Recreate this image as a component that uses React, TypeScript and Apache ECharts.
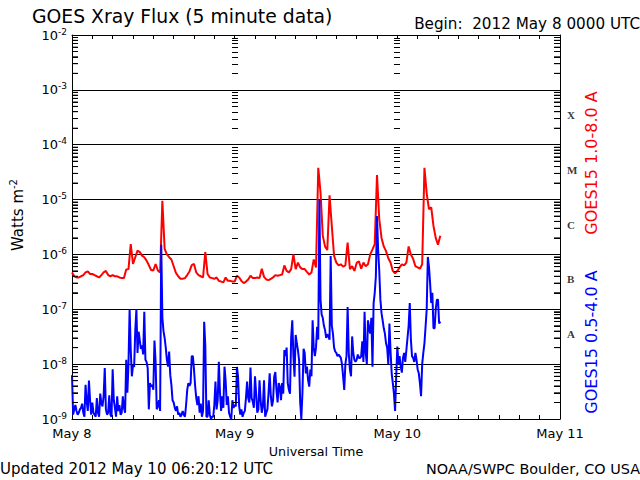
import React, { useEffect, useRef } from "react";
import * as echarts from "echarts";

// ---- data ----
// long channel sampled every 20 minutes, short channel every 10 minutes, from 2012 May 8 00:00 UTC
const LONG_STEP_MINUTES = 20;
const SHORT_STEP_MINUTES = 10;
const DAY_LABELS = ["May 8", "May 9", "May 10", "May 11"];
const CLASS_LETTERS = ["X", "M", "C", "B", "A"];
const CLASS_LEVELS = [3.5e-4, 3.5e-5, 3.5e-6, 3.5e-7, 3.5e-8];
// interior day lines (hours from May 8 00:00) that carry a column of minor log ticks
const DAY_TICK_HOURS = [24, 48];
const EDGE_HOURS = [0, 72];

// GOES15 1.0-8.0 A (W m^-2)
const LONG_CHANNEL = [
  4.7e-7, 4.0e-7, 3.8e-7, 3.8e-7, 4.0e-7, 4.2e-7, 4.7e-7, 4.9e-7, 4.4e-7, 4.4e-7,
  4.2e-7, 4.0e-7, 3.8e-7, 4.2e-7, 4.7e-7, 5.0e-7, 4.2e-7, 4.0e-7, 4.2e-7, 4.0e-7,
  4.0e-7, 3.8e-7, 3.7e-7, 3.7e-7, 5.3e-7, 5.4e-7, 1.55e-6, 6.7e-7, 8.9e-7, 1.17e-6,
  1.1e-6, 9.5e-7, 8.9e-7, 7.7e-7, 6.4e-7, 5.2e-7, 5.1e-7, 6.7e-7, 5.1e-7, 4.7e-7,
  9.5e-6, 1.26e-6, 1.0e-6, 8.9e-7, 8.1e-7, 6.1e-7, 4.6e-7, 4.0e-7, 3.6e-7, 3.6e-7,
  3.7e-7, 4.2e-7, 4.9e-7, 6.4e-7, 6.7e-7, 4.7e-7, 4.2e-7, 4.0e-7, 3.8e-7, 1.1e-6,
  4.4e-7, 3.8e-7, 3.7e-7, 3.6e-7, 3.8e-7, 3.3e-7, 3.2e-7, 3.1e-7, 3.8e-7, 3.3e-7,
  3.3e-7, 3.2e-7, 3.2e-7, 4.1e-7, 3.8e-7, 3.3e-7, 3.0e-7, 3.2e-7, 3.5e-7, 4.1e-7,
  3.7e-7, 3.7e-7, 3.8e-7, 3.7e-7, 5.5e-7, 3.9e-7, 3.5e-7, 3.4e-7, 3.6e-7, 3.8e-7,
  4.2e-7, 4.1e-7, 4.2e-7, 4.3e-7, 6.3e-7, 5.0e-7, 4.7e-7, 5.4e-7, 1.0e-6, 5.4e-7,
  7.1e-7, 5.8e-7, 5.4e-7, 5.4e-7, 4.8e-7, 4.3e-7, 4.7e-7, 8.1e-7, 5.8e-7, 3.8e-5,
  1.35e-5, 2.2e-6, 1.4e-6, 1.2e-6, 1.2e-5, 3.3e-6, 9.4e-7, 7.1e-7, 6.3e-7, 6.6e-7,
  6.0e-7, 6.3e-7, 1.65e-6, 5.4e-7, 6.1e-7, 5.0e-7, 7.0e-7, 7.5e-7, 5.5e-7, 7.1e-7,
  6.1e-7, 6.6e-7, 1.0e-6, 1.24e-6, 1.54e-6, 2.8e-5, 4.4e-6, 2.0e-6, 1.4e-6, 1.15e-6,
  8.5e-7, 7.1e-7, 5.0e-7, 4.5e-7, 5.0e-7, 5.8e-7, 6.6e-7, 6.3e-7, 7.1e-7, 1.4e-6,
  1.0e-6, 8.3e-7, 6.1e-7, 5.8e-7, 5.5e-7, 6.6e-7, 3.8e-5, 1.3e-5, 6.7e-6, 7.2e-6,
  3.3e-6, 2.0e-6, 1.5e-6, 2.2e-6,
];

// GOES15 0.5-4.0 A (W m^-2)
const SHORT_CHANNEL = [
  6.3e-9, 1.2e-9, 1.5e-9, 1.8e-9, 1.4e-9, 1.2e-9, 1.3e-9, 1.5e-9, 1.6e-9, 1.9e-9,
  1.3e-9, 1.1e-9, 4.2e-9, 2.1e-9, 1.4e-9, 5.0e-9, 2.2e-9, 1.2e-9, 2.0e-9, 1.3e-9,
  1.2e-9, 1.1e-9, 2.4e-9, 1.3e-9, 1.1e-9, 2.9e-9, 1.9e-9, 1.7e-9, 2.6e-9, 8.5e-9,
  1.5e-9, 1.2e-9, 1.3e-9, 2.7e-9, 1.2e-9, 1.1e-9, 8.1e-9, 2.2e-9, 1.6e-9, 1.1e-9,
  2.6e-9, 1.4e-9, 1.8e-9, 1.2e-9, 1.3e-9, 2.6e-9, 1.6e-9, 1.3e-9, 1.2e-8, 3.0e-9,
  1.0e-8, 1.0e-7, 1.8e-8, 6.0e-9, 9.5e-9, 8.9e-9, 4.0e-8, 1.0e-7, 1.6e-8, 3.9e-8,
  2.7e-8, 1.9e-8, 2.2e-8, 1.5e-8, 9.0e-8, 1.2e-8, 1.1e-8, 8.5e-9, 1.5e-9, 4.5e-9,
  3.9e-9, 4.2e-9, 3.4e-9, 2.7e-8, 1.1e-8, 1.5e-9, 1.7e-9, 2.2e-9, 1.4e-9, 1.5e-6,
  7.0e-8, 4.0e-8, 3.0e-8, 2.0e-8, 1.2e-8, 9.0e-9, 1.7e-8, 6.3e-9, 4.2e-9, 2.2e-9,
  2.0e-9, 1.6e-9, 1.4e-9, 1.7e-9, 1.2e-9, 1.3e-9, 1.1e-9, 1.2e-9, 1.4e-9, 1.2e-9,
  1.1e-9, 1.8e-9, 3.4e-9, 4.5e-9, 4.0e-9, 4.5e-9, 1.4e-8, 1.4e-8, 8.0e-9, 4.0e-9,
  2.4e-9, 1.8e-9, 2.6e-9, 1.3e-9, 1.9e-9, 1.1e-9, 1.4e-9, 5.9e-8, 2.2e-8, 1.1e-9,
  1.1e-9, 2.2e-9, 1.2e-9, 1.0e-9, 1.1e-9, 1.1e-9, 1.8e-9, 4.8e-9, 1.5e-9, 2.2e-9,
  1.1e-8, 3.0e-9, 1.4e-9, 2.6e-9, 1.6e-9, 9.0e-9, 5.0e-9, 1.8e-9, 2.6e-9, 1.3e-9,
  1.1e-9, 1.0e-9, 2.2e-9, 1.6e-9, 1.8e-9, 1.7e-9, 8.9e-9, 5.9e-9, 1.7e-9, 1.2e-9,
  1.5e-9, 1.1e-9, 1.3e-9, 1.4e-9, 2.4e-9, 4.8e-9, 2.4e-9, 2.0e-9, 8.7e-9, 2.4e-9,
  2.1e-9, 1.6e-9, 6.0e-9, 2.9e-9, 1.3e-9, 1.5e-9, 5.1e-9, 2.2e-9, 1.3e-9, 1.7e-9,
  5.1e-9, 1.1e-9, 1.3e-9, 1.5e-9, 3.0e-9, 6.8e-9, 2.6e-9, 1.7e-9, 2.2e-9, 5.9e-9,
  7.2e-9, 3.4e-9, 2.0e-9, 4.5e-9, 3.9e-9, 2.2e-9, 4.5e-9, 2.9e-9, 1.8e-8, 1.4e-8,
  2.0e-8, 4.5e-9, 3.4e-9, 2.9e-9, 3.0e-8, 6.3e-8, 1.4e-8, 5.9e-9, 3.4e-8, 2.4e-8,
  1.8e-8, 1.2e-8, 2.0e-9, 1.0e-9, 3.0e-9, 1.9e-8, 1.6e-8, 6.8e-9, 9.0e-9, 5.1e-9,
  3.9e-9, 8.0e-9, 6.0e-9, 6.3e-8, 2.0e-8, 1.4e-8, 2.0e-8, 4.8e-8, 2.8e-8, 1.0e-5,
  1.5e-7, 8.0e-8, 7.0e-8, 5.0e-8, 4.2e-8, 3.0e-8, 3.5e-8, 3.2e-8, 2.8e-8, 9.4e-7,
  5.0e-8, 3.6e-8, 2.0e-8, 1.7e-8, 1.6e-8, 1.4e-8, 1.5e-8, 1.4e-8, 1.3e-8, 1.0e-8,
  6.0e-9, 3.4e-9, 1.0e-8, 1.4e-8, 1.1e-7, 1.6e-8, 8.0e-9, 6.0e-9, 3.2e-8, 1.6e-8,
  1.2e-8, 1.1e-8, 1.2e-8, 1.5e-8, 1.3e-8, 1.3e-8, 1.4e-8, 2.6e-8, 1.1e-8, 9.0e-8,
  1.6e-8, 1.0e-8, 6.3e-8, 4.5e-8, 3.6e-8, 7.0e-8, 9.0e-9, 1.3e-7, 2.0e-7, 4.0e-7,
  5.0e-6, 1.2e-6, 5.0e-7, 1.5e-7, 8.5e-8, 6.3e-8, 4.5e-8, 3.6e-8, 2.4e-8, 2.0e-8,
  1.0e-8, 5.5e-8, 1.7e-8, 6.8e-9, 4.5e-9, 2.9e-9, 1.4e-9, 5.9e-9, 2.1e-8, 1.0e-8,
  1.4e-8, 9.0e-9, 7.0e-9, 1.3e-8, 1.6e-8, 1.1e-8, 1.8e-8, 3.0e-8, 5.0e-8, 1.3e-7,
  2.8e-8, 1.4e-8, 1.3e-8, 1.1e-8, 1.6e-8, 1.2e-8, 8.0e-9, 6.8e-9, 4.5e-9, 2.6e-9,
  1.0e-8, 1.6e-8, 2.4e-8, 4.8e-8, 1.0e-7, 9.0e-7, 6.0e-7, 3.0e-7, 1.3e-7, 2.0e-7,
  4.5e-8, 4.5e-8, 1.0e-7, 1.5e-7, 1.5e-7, 5.5e-8, 6.0e-8,
];

const FONT = "DejaVu Sans";
const BLACK = "#000000";
const RED = "#ff0000";
const BLUE = "#0000ff";

function toSeries(values: number[], stepMinutes: number) {
  return values.map((v, i) => [(i * stepMinutes) / 60, v]);
}

// minor log tick values 2..9 x 10^n inside the axis range
function minorLogValues() {
  const out: number[] = [];
  for (let n = -9; n <= -3; n++) {
    for (let k = 2; k <= 9; k++) out.push(k * Math.pow(10, n));
  }
  return out;
}
const MINOR_VALUES = minorLogValues();

function edgeTickSeries(hour: number, offset: number) {
  return {
    type: "scatter",
    xAxisIndex: 0,
    yAxisIndex: 0,
    silent: true,
    clip: false,
    symbol: "rect",
    symbolSize: [6, 1],
    symbolOffset: [offset, 0],
    itemStyle: { color: BLACK, opacity: 1 },
    data: MINOR_VALUES.map((v) => [hour, v]),
    z: 9,
  };
}

function buildOption() {
  const minorTick = {
    show: true,
    inside: true,
    length: 6,
    customValues: MINOR_VALUES,
    lineStyle: { color: BLACK, width: 1 },
  };
  const logBase = { type: "log", logBase: 10, min: 1e-9, max: 1e-2, splitNumber: 7 };
  return {
    animation: false,
    backgroundColor: "#ffffff",
    grid: {
      left: 72,
      right: 80,
      top: 35,
      bottom: 61,
      show: false,
    },
    xAxis: [
      {
        type: "value",
        min: 0,
        max: 72,
        interval: 3,
        position: "bottom",
        axisLine: { show: true, onZero: false, lineStyle: { color: BLACK, width: 1 } },
        axisTick: { show: true, inside: true, length: 4, lineStyle: { color: BLACK } },
        axisLabel: {
          color: BLACK,
          fontFamily: FONT,
          fontSize: 13,
          margin: 8,
          formatter: (v: number) => (v % 24 === 0 ? DAY_LABELS[v / 24] : ""),
        },
        splitLine: { show: false },
        name: "Universal Time",
        nameLocation: "middle",
        nameGap: 23,
        nameTextStyle: { color: BLACK, fontFamily: FONT, fontSize: 12.7 },
      },
      {
        type: "value",
        min: 0,
        max: 72,
        interval: 3,
        position: "top",
        axisLine: { show: true, onZero: false, lineStyle: { color: BLACK, width: 1 } },
        axisTick: { show: true, inside: true, length: 4, lineStyle: { color: BLACK } },
        axisLabel: { show: false },
        splitLine: { show: false },
      },
    ],
    yAxis: [
      {
        ...logBase,
        position: "left",
        axisLine: { show: true, onZero: false, lineStyle: { color: BLACK, width: 1 } },
        axisTick: minorTick,
        splitLine: { show: false },
        axisLabel: {
          margin: 5,
          formatter: (v: number) => `{b|10}{s|${Math.round(Math.log10(v))}}`,
          rich: {
            b: { fontFamily: FONT, fontSize: 13, color: BLACK },
            s: { fontFamily: FONT, fontSize: 9, color: BLACK, padding: [0, 0, 7, 0] },
          },
        },
      },
      {
        ...logBase,
        position: "right",
        axisLine: { show: true, onZero: false, lineStyle: { color: BLACK, width: 1 } },
        axisTick: minorTick,
        axisLabel: { show: false },
        splitLine: { show: false },
      },
      {
        ...logBase,
        position: "left",
        axisLine: { show: false },
        axisTick: { show: false },
        axisLabel: { show: false },
        splitLine: { show: true, lineStyle: { color: BLACK, width: 1 } },
      },
    ],
    graphic: [
      {
        type: "text",
        x: 32,
        y: 16,
        style: {
          text: "GOES Xray Flux (5 minute data)",
          fontFamily: FONT,
          fontSize: 18.8,
          fill: BLACK,
          align: "left",
          verticalAlign: "middle",
        },
      },
      {
        type: "text",
        x: 640,
        y: 24,
        style: {
          text: "Begin:\u00a0 2012 May 8 0000 UTC",
          fontFamily: FONT,
          fontSize: 15.2,
          fill: BLACK,
          align: "right",
          verticalAlign: "middle",
        },
      },
      {
        type: "text",
        x: 0,
        y: 469,
        style: {
          text: "Updated 2012 May 10 06:20:12 UTC",
          fontFamily: FONT,
          fontSize: 15,
          fill: BLACK,
          align: "left",
          verticalAlign: "middle",
        },
      },
      {
        type: "text",
        x: 640,
        y: 469,
        style: {
          text: "NOAA/SWPC Boulder, CO USA",
          fontFamily: FONT,
          fontSize: 14.4,
          fill: BLACK,
          align: "right",
          verticalAlign: "middle",
        },
      },
      {
        type: "text",
        x: 18,
        y: 215,
        rotation: Math.PI / 2,
        style: {
          text: "{b|Watts m}{s|-2}",
          align: "center",
          verticalAlign: "middle",
          rich: {
            b: { fontFamily: FONT, fontSize: 15, fill: BLACK, color: BLACK },
            s: { fontFamily: FONT, fontSize: 10, fill: BLACK, color: BLACK, padding: [0, 0, 10, 0] },
          },
        },
      },
      {
        type: "text",
        x: 591,
        y: 163,
        rotation: Math.PI / 2,
        style: {
          text: "GOES15 1.0-8.0 A",
          fontFamily: FONT,
          fontSize: 16,
          fill: RED,
          align: "center",
          verticalAlign: "middle",
        },
      },
      {
        type: "text",
        x: 591,
        y: 342,
        rotation: Math.PI / 2,
        style: {
          text: "GOES15 0.5-4.0 A",
          fontFamily: FONT,
          fontSize: 16,
          fill: BLUE,
          align: "center",
          verticalAlign: "middle",
        },
      },
    ],
    series: [
      {
        type: "custom",
        name: "dayTicks",
        xAxisIndex: 0,
        yAxisIndex: 0,
        silent: true,
        clip: false,
        encode: { x: 0, y: 1 },
        data: MINOR_VALUES.map((v) => [36, v]),
        renderItem: (params: any, api: any) => {
          const v = api.value(1);
          const children = DAY_TICK_HOURS.map((h) => {
            const p = api.coord([h, v]);
            const x = Math.round(p[0]);
            const y = Math.round(p[1]) + 0.5;
            return {
              type: "line",
              shape: { x1: x - 3, y1: y, x2: x + 3, y2: y },
              style: { stroke: BLACK, lineWidth: 1 },
            };
          });
          return { type: "group", children };
        },
        z: 10,
      },
      edgeTickSeries(EDGE_HOURS[0], 3),
      edgeTickSeries(EDGE_HOURS[1], -3),
      {
        type: "line",
        name: "GOES15 1.0-8.0 A",
        xAxisIndex: 0,
        yAxisIndex: 0,
        data: toSeries(LONG_CHANNEL, LONG_STEP_MINUTES),
        showSymbol: false,
        symbol: "none",
        lineStyle: { color: RED, width: 2 },
        z: 4,
      },
      {
        type: "line",
        name: "GOES15 0.5-4.0 A",
        xAxisIndex: 0,
        yAxisIndex: 0,
        data: toSeries(SHORT_CHANNEL, SHORT_STEP_MINUTES),
        showSymbol: false,
        symbol: "none",
        lineStyle: { color: BLUE, width: 2 },
        z: 5,
      },
      {
        type: "scatter",
        name: "classes",
        xAxisIndex: 0,
        yAxisIndex: 0,
        silent: true,
        clip: false,
        symbolSize: 0,
        data: CLASS_LEVELS.map((v, i) => [72, v, CLASS_LETTERS[i]]),
        label: {
          show: true,
          position: "right",
          distance: 7,
          formatter: (p: any) => p.data[2],
          fontFamily: "Liberation Serif",
          fontWeight: "bold",
          fontSize: 11,
          color: BLACK,
        },
      },
    ],
  };
}

export default function App() {
  const ref = useRef<HTMLDivElement>(null);
  useEffect(() => {
    if (!ref.current) return;
    const chart = echarts.init(ref.current, null, { renderer: "svg" });
    chart.setOption(buildOption() as any);
    return () => chart.dispose();
  }, []);
  return (
    <div
      ref={ref}
      style={{ position: "absolute", left: 0, top: 0, width: 640, height: 480, background: "#ffffff" }}
    />
  );
}
